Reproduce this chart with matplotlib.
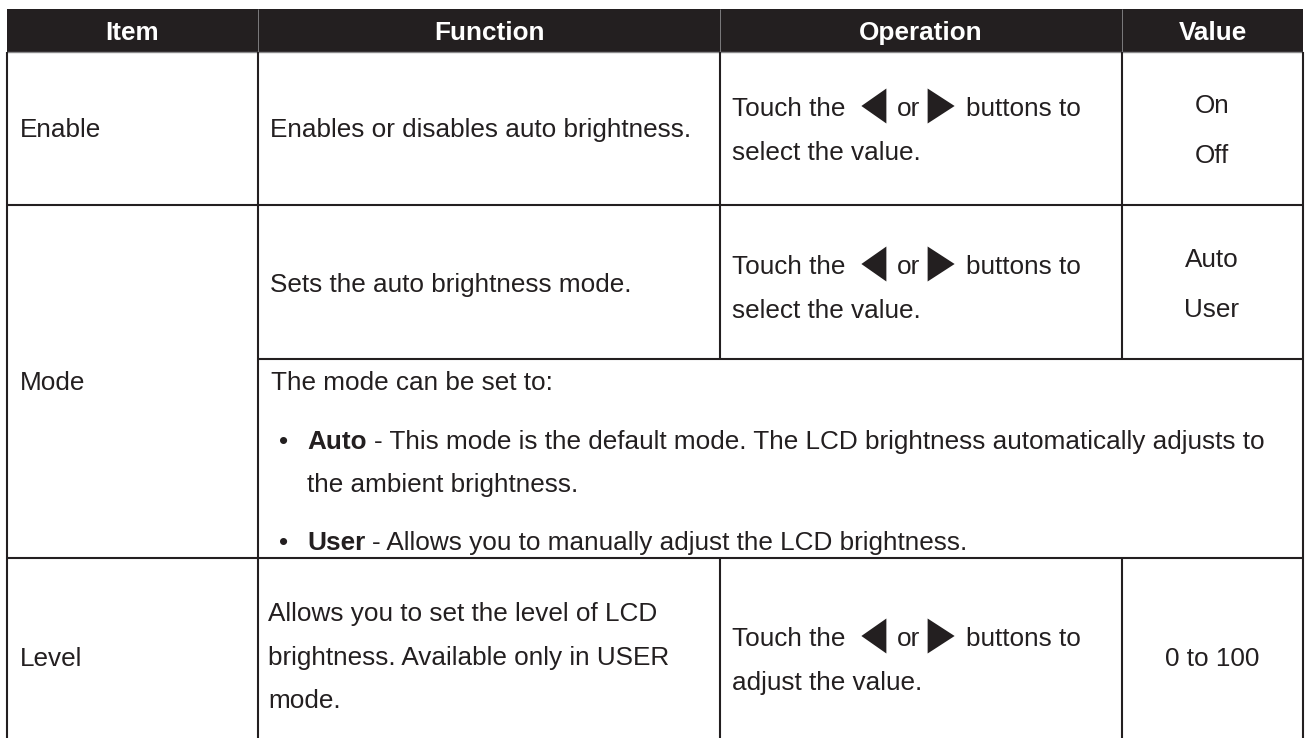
import matplotlib
matplotlib.use("Agg")
import matplotlib.pyplot as plt
from matplotlib.patches import Rectangle, Polygon

plt.rcParams['font.family'] = ['Liberation Sans', 'DejaVu Sans']

# table content
headers = ["Item", "Function", "Operation", "Value"]
items = ["Enable", "Mode", "Level"]
functions = [
    ["Enables or disables auto brightness."],
    ["Sets the auto brightness mode."],
    ["Allows you to set the level of LCD", "brightness. Available only in USER", "mode."],
]
op_second = ["select the value.", "select the value.", "adjust the value."]
values = [["On", "Off"], ["Auto", "User"], ["0 to 100"]]
mode_intro = "The mode can be set to:"
mode_bullets = [
    ("Auto", ["- This mode is the default mode. The LCD brightness automatically adjusts to",
              "the ambient brightness."]),
    ("User", ["- Allows you to manually adjust the LCD brightness."]),
]

INK = "#231f20"
FS = 18.8
W, H = 1306, 738

fig = plt.figure(figsize=(13.06, 7.38), dpi=100)
ax = fig.add_axes([0, 0, 1, 1])
ax.set_xlim(0, W)
ax.set_ylim(H, 0)
ax.axis('off')
r = fig.canvas.get_renderer()

cols = [7, 258, 720, 1122, 1303]
hdr_top, hdr_bot = 9, 52
r_enable, r_mode_mid, r_mode, r_end = 205, 359, 558, 760


def txt(x, yc, s, **kw):
    # yc = vertical centre of capitals
    kw.setdefault('color', INK)
    kw.setdefault('fontsize', FS)
    return ax.text(x, yc + 9.3, s, va='baseline', **kw)


def right(t):
    bb = t.get_window_extent(renderer=r)
    return ax.transData.inverted().transform((bb.x1, bb.y0))[0]


def line(x0, x1, y0, y1, c=INK, lw=1.5):
    ax.plot([x0, x1], [y0, y1], color=c, lw=lw, solid_capstyle='butt')


# header
ax.add_patch(Rectangle((cols[0], hdr_top), cols[-1] - cols[0], hdr_bot - hdr_top,
                       facecolor=INK, edgecolor='none'))
for i, h in enumerate(headers):
    txt((cols[i] + cols[i + 1]) / 2, 31, h, color='white', fontweight='bold', ha='center')
for x in cols[1:-1]:
    line(x, x, hdr_top, hdr_bot, c='#8a8a8c', lw=0.6)
line(cols[0], cols[-1], hdr_bot, hdr_bot, c='#8a8a8c', lw=1.0)

# grid
for x in (cols[0], cols[1], cols[-1]):
    line(x, x, hdr_bot, r_end)
for x in (cols[2], cols[3]):
    line(x, x, hdr_bot, r_mode_mid)
    line(x, x, r_mode, r_end)
line(cols[0], cols[-1], r_enable, r_enable)
line(cols[1], cols[-1], r_mode_mid, r_mode_mid)
line(cols[0], cols[-1], r_mode, r_mode)


def touch_line(yc, second):
    t = txt(732, yc, "Touch the")
    x = right(t) + 16
    ty = yc - 1
    ax.add_patch(Polygon([(x, ty), (x + 25, ty - 17.5), (x + 25, ty + 17.5)],
                         closed=True, facecolor=INK, edgecolor='none'))
    x += 25 + 11
    t2 = txt(x, yc, "or")
    x = right(t2) + 7
    ax.add_patch(Polygon([(x, ty - 17.5), (x + 27, ty), (x, ty + 17.5)],
                         closed=True, facecolor=INK, edgecolor='none'))
    x += 27 + 11
    txt(x, yc, "buttons to")
    txt(732, yc + 44, second)


# Enable row
txt(20, 128, items[0])
txt(270, 128, functions[0][0])
touch_line(107, op_second[0])
txt(1212, 104, values[0][0], ha='center')
txt(1212, 154, values[0][1], ha='center')

# Mode row
txt(20, 381, items[1])
txt(270, 283, functions[1][0])
touch_line(265, op_second[1])
txt(1212, 258, values[1][0], ha='center')
txt(1212, 308, values[1][1], ha='center')

txt(271, 381, mode_intro)
ys = [[440, 483], [541]]
for (bold, rest), yy in zip(mode_bullets, ys):
    txt(279, yy[0], "\u2022")
    tb = txt(307, yy[0], bold, fontweight='bold')
    txt(right(tb) + 7, yy[0], rest[0])
    for s, y in zip(rest[1:], yy[1:]):
        txt(307, y, s)

# Level row
txt(20, 657, items[2])
for s, y in zip(functions[2], [612, 656, 699]):
    txt(268, y, s)
touch_line(637, op_second[2])
txt(1212, 657, values[2][0], ha='center')

fig.savefig("out.png", dpi=100, facecolor='white')
